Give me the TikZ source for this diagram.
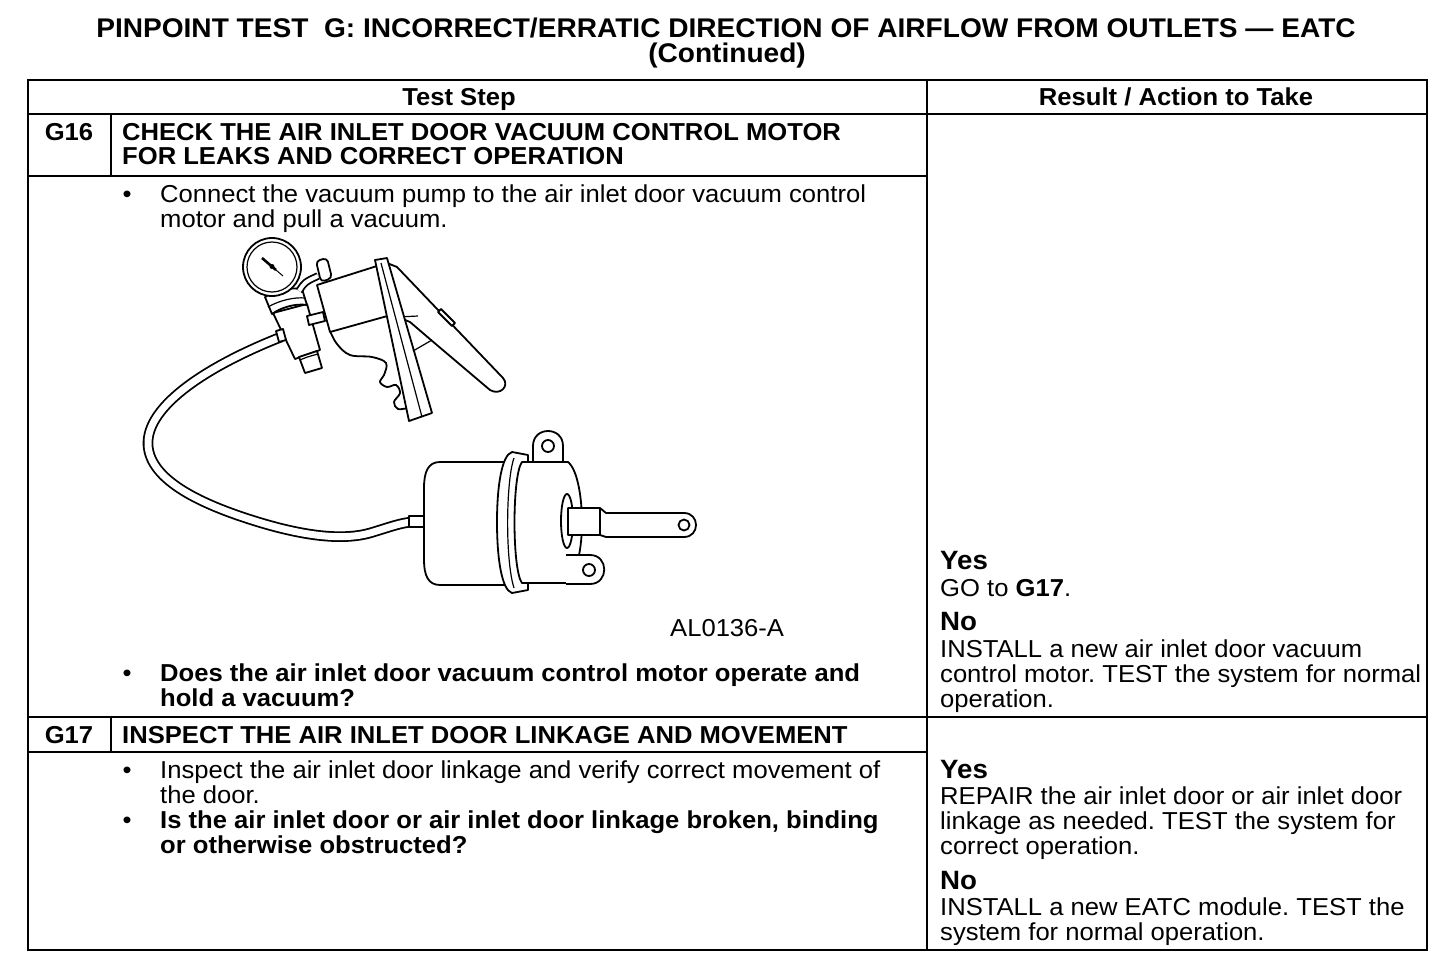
\documentclass[tikz,border=0pt]{standalone}
\usepackage{fontspec}
\setmainfont{Liberation Sans}[FakeStretch=1.045]
\newfontfamily\titlefont{Liberation Sans}[FakeStretch=1.04]
\begin{document}
\frenchspacing
\begin{tikzpicture}[x=1pt,y=-1pt,
  tbl/.style={line width=2.7pt,line cap=rect},
  txt/.style={anchor=base west,inner sep=0pt,font=\fontsize{24.5}{25}\selectfont},
  btxt/.style={anchor=base west,inner sep=0pt,font=\fontsize{24.5}{25}\selectfont\bfseries},
  yn/.style={anchor=base west,inner sep=0pt,font=\fontsize{26.5}{28}\selectfont\bfseries},
  ctr/.style={anchor=base,inner sep=0pt,font=\fontsize{24.5}{25}\selectfont\bfseries},
  bul/.style={anchor=base,inner sep=0pt,font=\fontsize{24.5}{25}\selectfont},
  ttl/.style={anchor=base,inner sep=0pt,font=\titlefont\fontsize{27}{28}\selectfont\bfseries},
  part/.style={draw=black,fill=white,line width=1.8pt,line join=round},
  thin/.style={draw=black,line width=1.2pt},
  hose/.style={draw=black,line width=1.8pt,double=white,double distance=7pt}
]
\useasboundingbox (0,0) rectangle (1456,972);
\fill[white] (0,0) rectangle (1456,972);

% ---------- title ----------
\node[ttl] (title1) at (726,37) {PINPOINT TEST\ \ G: INCORRECT/ERRATIC DIRECTION OF AIRFLOW FROM OUTLETS — EATC};
\node[ttl] (title2) at (727,62) {(Continued)};

% ---------- table ----------
\draw[tbl] (28,80) rectangle (1427,950);
\draw[tbl] (927,80) -- (927,950);
\draw[tbl] (28,114) -- (1427,114);
\draw[tbl] (28,176) -- (927,176);
\draw[tbl] (111,114) -- (111,176);
\draw[tbl] (28,717) -- (1427,717);
\draw[tbl] (28,752) -- (927,752);
\draw[tbl] (111,717) -- (111,752);

\node[ctr] (hdrL) at (459,105) {Test Step};
\node[ctr] (hdrR) at (1176,105) {Result / Action to Take};

% ---------- G16 ----------
\node[ctr] (g16) at (69,140) {G16};
\node[btxt] (g16a) at (122,140) {CHECK THE AIR INLET DOOR VACUUM CONTROL MOTOR};
\node[btxt] (g16b) at (122,164) {FOR LEAKS AND CORRECT OPERATION};
\node[bul] (b1) at (127,202) {•};
\node[txt] (s1a) at (160,202) {Connect the vacuum pump to the air inlet door vacuum control};
\node[txt] (s1b) at (160,227) {motor and pull a vacuum.};
\node[txt] (fig) at (670,636) {AL0136-A};
\node[bul] (b2) at (127,681) {•};
\node[btxt] (s2a) at (160,681) {Does the air inlet door vacuum control motor operate and};
\node[btxt] (s2b) at (160,706) {hold a vacuum?};

\node[yn] (y16) at (940,569) {Yes};
\node[txt] (y16a) at (940,596) {GO to \textbf{G17}.};
\node[yn] (n16) at (940,630) {No};
\node[txt] (n16a) at (940,657) {INSTALL a new air inlet door vacuum};
\node[txt] (n16b) at (940,682) {control motor. TEST the system for normal};
\node[txt] (n16c) at (940,707) {operation.};

% ---------- G17 ----------
\node[ctr] (g17) at (69,743) {G17};
\node[btxt] (g17a) at (122,743) {INSPECT THE AIR INLET DOOR LINKAGE AND MOVEMENT};
\node[bul] (b3) at (127,778) {•};
\node[txt] (s3a) at (160,778) {Inspect the air inlet door linkage and verify correct movement of};
\node[txt] (s3b) at (160,803) {the door.};
\node[bul] (b4) at (127,828) {•};
\node[btxt] (s4a) at (160,828) {Is the air inlet door or air inlet door linkage broken, binding};
\node[btxt] (s4b) at (160,853) {or otherwise obstructed?};

\node[yn] (y17) at (940,778) {Yes};
\node[txt] (y17a) at (940,804) {REPAIR the air inlet door or air inlet door};
\node[txt] (y17b) at (940,829) {linkage as needed. TEST the system for};
\node[txt] (y17c) at (940,854) {correct operation.};
\node[yn] (n17) at (940,889) {No};
\node[txt] (n17a) at (940,915) {INSTALL a new EATC module. TEST the};
\node[txt] (n17b) at (940,940) {system for normal operation.};

% ---------- illustration: hose ----------
\draw[hose] (281,337) .. controls (210,365) and (146,405) .. (148,445)
  .. controls (150,480) and (200,505) .. (265,524)
  .. controls (310,537) and (345,540) .. (370,533)
  .. controls (390,527) and (400,523) .. (412,522);

% ---------- vacuum motor ----------
\draw[part] (409,516) rectangle (427,527);
\draw[part] (440,462) -- (505,462) -- (505,585) -- (440,585)
  .. controls (428,585) and (424,575) .. (424,560) -- (424,488)
  .. controls (424,472) and (428,462) .. (440,462) -- cycle;
\draw[part] (512,452) -- (528,455) -- (528,590) -- (512,593)
  .. controls (502,590) and (497,560) .. (497,522)
  .. controls (497,485) and (502,455) .. (512,452) -- cycle;
\draw[thin] (514,458) .. controls (506,480) and (505,560) .. (514,588);
\draw[part] (533,470) -- (533,446) .. controls (533,426) and (563,426) .. (563,446) -- (563,470);
\draw[part] (548,446) circle (6pt);
\draw[part] (522,462) -- (568,462) .. controls (578,470) and (582,500) .. (582,522)
  .. controls (582,548) and (577,575) .. (566,583) -- (522,583)
  .. controls (512,570) and (512,475) .. (522,462) -- cycle;
\draw[part] (566,555) -- (590,555) .. controls (609,555) and (609,584) .. (590,584) -- (566,584);
\draw[part] (589,570) circle (6pt);
\draw[part] (567,521) ellipse [x radius=6pt, y radius=27pt];
\draw[part] (568,508) -- (600,508) -- (606,513) -- (684,513)
  .. controls (700,513) and (700,537) .. (684,537) -- (606,537) -- (600,535) -- (568,535) -- cycle;
\draw[thin] (600,508) -- (600,535);
\draw[part] (684,525) circle (5.5pt);

% ---------- vacuum pump ----------
% lever
\draw[part] (387,263) -- (397,267) -- (503,378) .. controls (510,386) and (500,396) .. (490,390)
  -- (431,340) -- (410,322) -- (398,317) -- cycle;
\draw[part] (438,312) -- (441,309) -- (455,323) -- (452,326) -- cycle;
\draw[thin] (398,317) -- (418,316);
% barrel
\draw[part] (317,285) -- (377,266) -- (391,315) -- (330,332) -- cycle;
% grip (wavy)
\draw[line width=1.8pt] plot[smooth,tension=0.6] coordinates {(330,331) (337,344) (350,355) (372,357) (386,363) (384,375) (380,382) (387,387) (396,385) (400,393) (394,402) (398,409) (408,409) (412,418)};
% handle
\draw[part] (375,260) -- (387,258) -- (432,413) -- (409,421) -- cycle;
\draw[thin] (381,263) -- (422,417);
\draw[thin] (413,351) -- (432,340);
% tube under gauge
\draw[part] (273,313) -- (307,304) -- (320,350) -- (295,359) -- cycle;
\draw[part] (299,357) -- (317,351) -- (322,368) -- (305,373) -- cycle;
\draw[thin] (300,360) .. controls (307,357) .. (318,354);
\draw[part] (276,331) -- (283,329) -- (286,340) -- (279,342) -- cycle;
\draw[part] (307,316) -- (323,312) -- (325,321) -- (309,325) -- cycle;
% collar
\draw[part] (265,297) .. controls (275,290) and (292,287) .. (302,289) -- (307,305)
  .. controls (295,303) and (280,308) .. (272,314) -- cycle;
\draw[thin] (268,307) .. controls (280,300) and (295,297) .. (305,298);
% connector tube gauge-barrel
\draw[line width=1.8pt,double=white,double distance=4pt] (299,291) .. controls (305,282) .. (318,276);
% knob
\draw[part,rounded corners=4pt] (316,261) -- (327,258) -- (332,278) -- (321,282) -- cycle;
% gauge
\draw[part] (272,267) circle (29pt);
\draw[thin] (272,267) circle (25pt);
\draw[line width=2.6pt] (262,258) -- (276,270);
\draw[line width=1pt] (276,270) -- (283,276);
\fill (272,266.5) circle (2.5pt);
\end{tikzpicture}
\end{document}
